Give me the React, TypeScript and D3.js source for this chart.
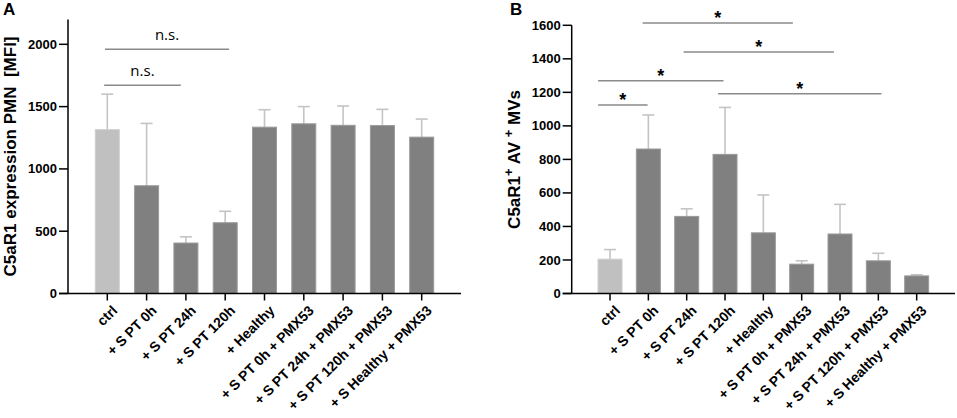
import React, { useEffect } from "react";
import * as d3 from "d3";

// ---- data ----
const categories = [
  "ctrl",
  "+ S PT 0h",
  "+ S PT 24h",
  "+ S PT 120h",
  "+ Healthy",
  "+ S PT 0h + PMX53",
  "+ S PT 24h + PMX53",
  "+ S PT 120h + PMX53",
  "+ S Healthy + PMX53",
];

const mfiMean = [1315, 865, 405, 568, 1335, 1362, 1350, 1348, 1255];
const mfiErr = [285, 500, 50, 92, 140, 138, 155, 130, 145];
const mfiTicks = [0, 500, 1000, 1500, 2000];

const mvMean = [205, 862, 460, 830, 362, 175, 355, 195, 105];
const mvErr = [57, 203, 45, 280, 226, 20, 177, 45, 7];
const mvTicks = [0, 200, 400, 600, 800, 1000, 1200, 1400, 1600];

// significance brackets: [from index, to index, height value, label]
const mfiSig: [number, number, number, string][] = [
  [-0.06, 3.1, 1960, "n.s."],
  [-0.08, 1.87, 1671, "n.s."],
];
const mvSig: [number, number, number, string][] = [
  [0.85, 4.77, 1614, "*"],
  [1.92, 5.84, 1441, "*"],
  [-0.31, 2.96, 1269, "*"],
  [2.82, 7.08, 1192, "*"],
  [-0.31, 0.98, 1124, "*"],
];

const FONT = "'Liberation Sans', Arial, sans-serif";

interface PanelProps {
  letter: string;
  letterX: number;
  left: number;
  right: number;
  top: number;
  yMax: number;
  means: number[];
  errs: number[];
  ticks: number[];
  sig: [number, number, number, string][];
  sigFont: string;
  sigSize: number;
  sigBold: boolean;
  labelX: number;
  yLabel: React.ReactNode;
}

const BOTTOM = 293.5;

const Panel: React.FC<PanelProps> = ({
  letter,
  letterX,
  left,
  right,
  top,
  yMax,
  means,
  errs,
  ticks,
  sig,
  sigFont,
  sigSize,
  sigBold,
  labelX,
  yLabel,
}) => {
  const x = d3.scalePoint<string>().domain(categories).range([left, right]).padding(1);
  const step = x.step();
  const xi = (i: number) => (x(categories[0]) as number) + i * step;
  const y = d3.scaleLinear().domain([0, yMax]).range([BOTTOM, top]);
  const barW = 24;
  const labelY = (BOTTOM + top) / 2;

  return (
    <g fontFamily={FONT}>
      <text x={letterX} y={15} fontSize={17} fontWeight="bold">
        {letter}
      </text>
      <text
        transform={`translate(${labelX},${labelY}) rotate(-90)`}
        textAnchor="middle"
        fontSize={17}
        fontWeight="bold"
      >
        {yLabel}
      </text>

      {/* bars */}
      {means.map((m, i) => {
        const cx = x(categories[i]) as number;
        const light = i === 0;
        return (
          <g key={i}>
            <line
              x1={cx}
              x2={cx}
              y1={y(m)}
              y2={y(m + errs[i])}
              stroke="#c4c4c4"
              strokeWidth={1.6}
            />
            <line
              x1={cx - 6}
              x2={cx + 6}
              y1={y(m + errs[i])}
              y2={y(m + errs[i])}
              stroke="#c4c4c4"
              strokeWidth={1.6}
            />
            <rect
              x={cx - barW / 2}
              y={y(m)}
              width={barW}
              height={BOTTOM - y(m)}
              fill={light ? "#c0c0c0" : "#808080"}
              stroke={light ? "#cfcfcf" : "#9a9a9a"}
              strokeWidth={1}
            />
          </g>
        );
      })}

      {/* axes */}
      <line x1={left} x2={left} y1={top} y2={BOTTOM} stroke="#000" strokeWidth={1.5} />
      <line x1={left - 9} x2={right} y1={BOTTOM} y2={BOTTOM} stroke="#000" strokeWidth={1.5} />
      {ticks.map((t) => (
        <g key={t}>
          <line x1={left - 9} x2={left} y1={y(t)} y2={y(t)} stroke="#000" strokeWidth={1.5} />
          <text
            x={left - 11}
            y={y(t)}
            dy="0.35em"
            textAnchor="end"
            fontSize={13}
            fontWeight="bold"
          >
            {t}
          </text>
        </g>
      ))}
      {categories.map((c) => {
        const cx = x(c) as number;
        return (
          <g key={c}>
            <line x1={cx} x2={cx} y1={BOTTOM} y2={BOTTOM + 7} stroke="#000" strokeWidth={1.5} />
            <text
              transform={`translate(${cx + 4},${BOTTOM + 11}) rotate(-45)`}
              textAnchor="end"
              fontSize={14}
              fontWeight="bold"
              dy="0.7em"
            >
              {c}
            </text>
          </g>
        );
      })}

      {/* significance */}
      {sig.map(([a, b, v, lab], k) => (
        <g key={k}>
          <line x1={xi(a)} x2={xi(b)} y1={y(v)} y2={y(v)} stroke="#8a8a8a" strokeWidth={1.5} />
          <text
            x={(xi(a) + xi(b)) / 2}
            y={y(v) + (sigBold ? 1 : -9)}
            textAnchor="middle"
            fontFamily={sigFont}
            fontSize={sigSize}
            fontWeight={sigBold ? "bold" : "normal"}
          >
            {lab}
          </text>
        </g>
      ))}
    </g>
  );
};

export default function App() {
  useEffect(() => {
    document.body.style.margin = "0";
  }, []);
  return (
    <svg width={957} height={418} style={{ display: "block", background: "#fff" }}>
      <Panel
        letter="A"
        letterX={3}
        left={68}
        right={461}
        top={19.4}
        yMax={2200}
        means={mfiMean}
        errs={mfiErr}
        ticks={mfiTicks}
        sig={mfiSig}
        sigFont="'Open Sans', sans-serif"
        sigSize={15}
        sigBold={false}
        labelX={16}
        yLabel={"C5aR1 expression PMN\u00a0 [MFI]"}
      />
      <Panel
        letter="B"
        letterX={510}
        left={571.7}
        right={955}
        top={25.3}
        yMax={1600}
        means={mvMean}
        errs={mvErr}
        ticks={mvTicks}
        sig={mvSig}
        sigFont={FONT}
        sigSize={18}
        sigBold={true}
        labelX={520}
        yLabel={
          <>
            C5aR1
            <tspan baselineShift="super" fontSize={13}>
              +
            </tspan>
            {" AV "}
            <tspan baselineShift="super" fontSize={13}>
              +
            </tspan>
            {" MVs"}
          </>
        }
      />
    </svg>
  );
}
